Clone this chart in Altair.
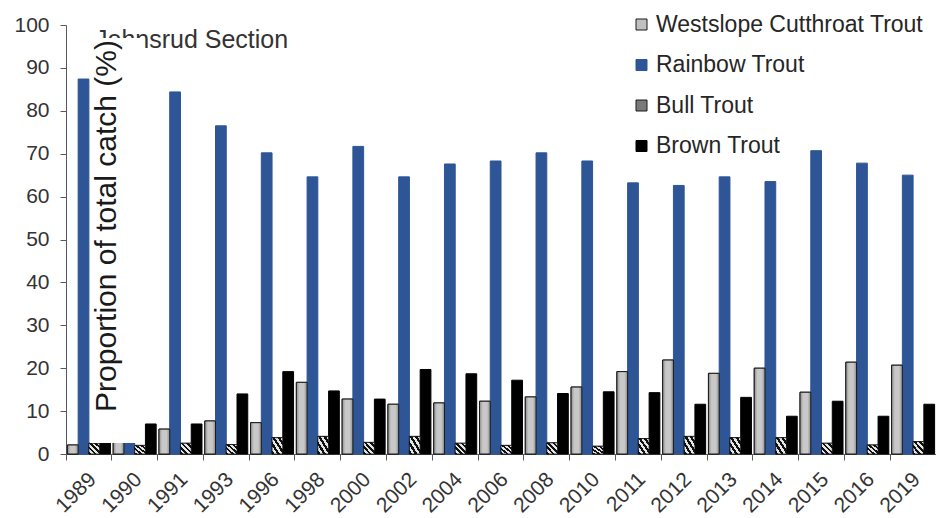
import altair as alt
import pandas as pd

# Survey years (categories) and species (series)
years = ["1989", "1990", "1991", "1993", "1996", "1998", "2000", "2002", "2004", "2006",
         "2008", "2010", "2011", "2012", "2013", "2014", "2015", "2016", "2019"]
species = ["Westslope Cutthroat Trout", "Rainbow Trout", "Bull Trout", "Brown Trout"]

# Proportion of total catch (%) per species and year
westslope = [2.1, 4.0, 5.8, 7.7, 7.3, 16.7, 12.8, 11.6, 11.9, 12.3,
             13.3, 15.6, 19.2, 21.9, 18.8, 20.0, 14.4, 21.4, 20.7]
rainbow = [87.4, 87.0, 84.4, 76.5, 70.2, 64.6, 71.7, 64.6, 67.6, 68.3,
           70.2, 68.3, 63.2, 62.6, 64.6, 63.5, 70.7, 67.8, 65.0]
bull = [2.5, 2.0, 2.5, 2.2, 3.8, 4.1, 2.7, 4.1, 2.5, 2.0,
        2.6, 1.8, 3.6, 4.1, 3.8, 3.8, 2.5, 2.1, 2.9]
brown = [8.0, 7.0, 7.0, 14.0, 19.2, 14.7, 12.8, 19.7, 18.7, 17.2,
         14.1, 14.5, 14.3, 11.6, 13.2, 8.8, 12.3, 8.8, 11.6]

section_title = "Johnsrud Section"
y_title = "Proportion of total catch (%)"

rows = []
for name, vals in zip(species, [westslope, rainbow, bull, brown]):
    for yr, v in zip(years, vals):
        rows.append({"year": yr, "species": name, "value": v})
df = pd.DataFrame(rows)

FONT = "Liberation Sans"
fill_range = ["#c0c0c0", "#2E5596", "#7a7a7a", "#000000"]
stroke_range = ["#1a1a1a", "#2E5596", "#1a1a1a", "#000000"]

x_enc = alt.X(
    "year:N", sort=years,
    scale=alt.Scale(domain=years, paddingInner=0, paddingOuter=0),
    axis=alt.Axis(title=None, labelAngle=-45, labelAlign="right", labelBaseline="middle",
                  bandPosition=0, labelOffset=4, tickSize=6, labelPadding=16,
                  labelFontSize=21, grid=False),
)
xoff_enc = alt.XOffset(
    "species:N", sort=species,
    scale=alt.Scale(domain=species, paddingInner=0, paddingOuter=0.13),
)
y_enc = alt.Y(
    "value:Q",
    scale=alt.Scale(domain=[0, 100], nice=False),
    axis=alt.Axis(title=None, values=list(range(0, 101, 10)), tickSize=6,
                  labelPadding=11, labelFontSize=21, grid=False),
)

legend = alt.Legend(title=None, orient="none", legendX=564, legendY=-12,
                    symbolType="square", symbolSize=121, symbolStrokeWidth=1,
                    labelFontSize=23, labelOffset=3, rowPadding=16.5, labelLimit=0,
                    labelColor="#262626", labelFont=FONT)

bars = alt.Chart(df).mark_bar(strokeWidth=1).encode(
    x=x_enc, xOffset=xoff_enc, y=y_enc,
    color=alt.Color("species:N", sort=species,
                    scale=alt.Scale(domain=species, range=fill_range), legend=legend),
    stroke=alt.Stroke("species:N", sort=species,
                      scale=alt.Scale(domain=species, range=stroke_range), legend=legend),
)

# shaded fill for the cutthroat bars
wct_fill = {
    "gradient": "linear", "x1": 0, "y1": 0, "x2": 1, "y2": 0,
    "stops": [
        {"offset": 0, "color": "#8c8c8c"},
        {"offset": 0.3, "color": "#c8c8c8"},
        {"offset": 0.7, "color": "#c8c8c8"},
        {"offset": 1, "color": "#8c8c8c"},
    ],
}
wct = alt.Chart(df).transform_filter(alt.datum.species == species[0]).mark_bar(
    fill=wct_fill, stroke="#1a1a1a", strokeWidth=1
).encode(x=x_enc, xOffset=xoff_enc, y=y_enc)

# diagonal hatch for the bull trout bars
hatch_stops = []
n = 8
for k in range(n):
    c = "#111111" if k % 2 == 0 else "#e6e6e6"
    hatch_stops.append({"offset": k / n, "color": c})
    hatch_stops.append({"offset": (k + 1) / n, "color": c})
bull_fill = {"gradient": "linear", "x1": 0, "y1": 1, "x2": 1, "y2": 0, "stops": hatch_stops}
blt = alt.Chart(df).transform_filter(alt.datum.species == species[2]).mark_bar(
    fill=bull_fill, stroke="#111111", strokeWidth=0.8
).encode(x=x_enc, xOffset=xoff_enc, y=y_enc)

heading = alt.Chart(pd.DataFrame({"t": [section_title]})).mark_text(
    align="left", baseline="alphabetic", fontSize=25, font=FONT, color="#333333"
).encode(text="t:N", x=alt.value(29), y=alt.value(23))

title_box = alt.Chart(pd.DataFrame({"t": [y_title]})).mark_rect(color="white").encode(
    x=alt.value(24), x2=alt.value(74), y=alt.value(13), y2=alt.value(418)
)

y_label = alt.Chart(pd.DataFrame({"t": [y_title]})).mark_text(
    angle=270, align="center", baseline="alphabetic", fontSize=30, font=FONT, color="#1a1a1a"
).encode(text="t:N", x=alt.value(50), y=alt.value(201))

chart = alt.layer(bars, wct, blt, heading, title_box, y_label).properties(
    width=870, height=429,
    autosize=alt.AutoSizeParams(type="none"),
    padding={"left": 66, "top": 25, "right": 0, "bottom": 64},
    background="white",
).configure_view(stroke=None).configure_axis(
    labelFont=FONT, labelColor="#333333", domainColor="#595959", tickColor="#595959"
)

chart.save("out.html", embed_options={"renderer": "svg", "actions": False})
